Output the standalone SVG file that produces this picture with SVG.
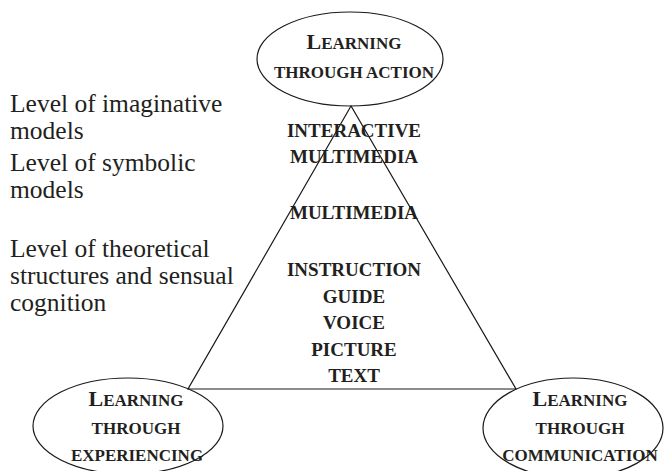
<svg xmlns="http://www.w3.org/2000/svg" width="665" height="471" viewBox="0 0 665 471">
<style>
.ell{fill:none;stroke:#1a1a1a;stroke-width:1.2}
.edge{fill:none;stroke:#1a1a1a;stroke-width:1.2}
.sc{font-family:"Liberation Serif","Times New Roman",serif;font-weight:bold;font-size:17px;fill:#231f20;text-anchor:middle}
.big{font-size:22px}
.mid{font-family:"Liberation Serif","Times New Roman",serif;font-weight:bold;font-size:19px;fill:#231f20;text-anchor:middle}
.lvl{font-family:"Liberation Serif","Times New Roman",serif;font-size:25.5px;fill:#231f20}
</style>
<rect width="665" height="471" fill="#ffffff"/>
<g id="connectors">
<path class="edge" d="M351,106 L188,389 L516,389 Z"/>
</g>
<g id="node-action">
<ellipse class="ell" cx="350" cy="59" rx="93" ry="47"/>
<text class="sc" x="354" y="49"><tspan class="big">L</tspan>EARNING</text>
<text class="sc" x="354" y="78">THROUGH ACTION</text>
</g>
<g id="node-experiencing">
<ellipse class="ell" cx="128" cy="426" rx="95" ry="48"/>
<text class="sc" x="136" y="406"><tspan class="big">L</tspan>EARNING</text>
<text class="sc" x="136" y="434">THROUGH</text>
<text class="sc" x="137" y="461">EXPERIENCING</text>
</g>
<g id="node-communication">
<ellipse class="ell" cx="573" cy="428" rx="90" ry="50"/>
<text class="sc" x="580" y="406"><tspan class="big">L</tspan>EARNING</text>
<text class="sc" x="580" y="434">THROUGH</text>
<text class="sc" x="580" y="461">COMMUNICATION</text>
</g>
<g id="pyramid-labels">
<text class="mid" x="354" y="137">INTERACTIVE</text>
<text class="mid" x="354" y="163">MULTIMEDIA</text>
<text class="mid" x="354" y="219">MULTIMEDIA</text>
<text class="mid" x="354" y="276">INSTRUCTION</text>
<text class="mid" x="354" y="303">GUIDE</text>
<text class="mid" x="354" y="329">VOICE</text>
<text class="mid" x="354" y="356">PICTURE</text>
<text class="mid" x="354" y="382">TEXT</text>
</g>
<g id="levels">
<text class="lvl" x="10" y="112">Level of imaginative</text>
<text class="lvl" x="10" y="139">models</text>
<text class="lvl" x="10" y="171">Level of symbolic</text>
<text class="lvl" x="10" y="198">models</text>
<text class="lvl" x="10" y="257">Level of theoretical</text>
<text class="lvl" x="10" y="284">structures and sensual</text>
<text class="lvl" x="10" y="311">cognition</text>
</g>
</svg>
